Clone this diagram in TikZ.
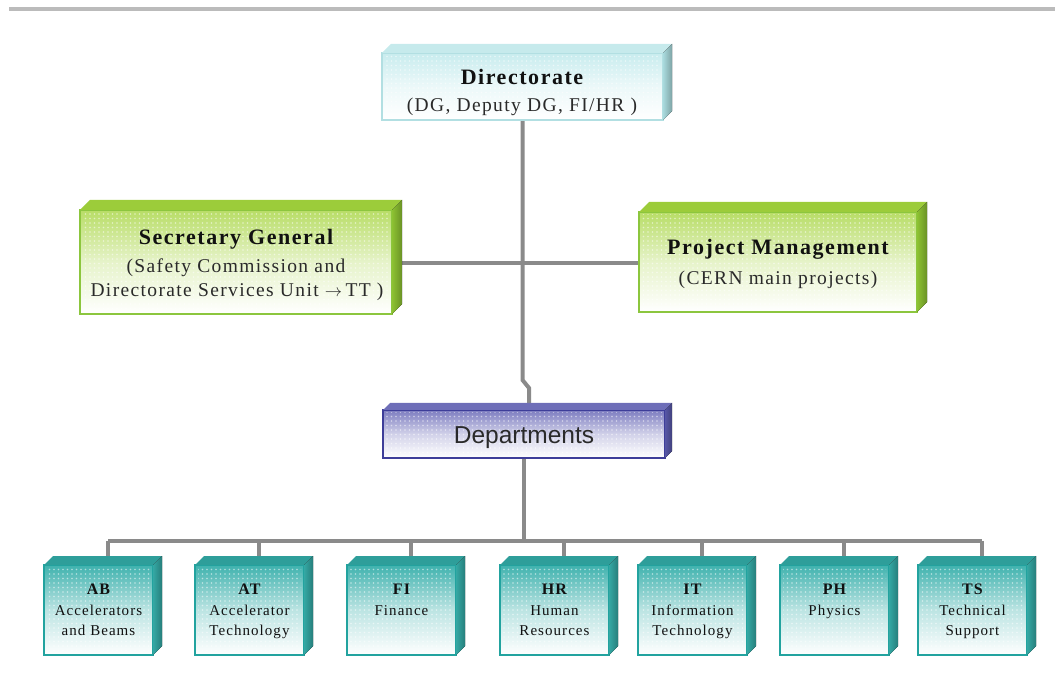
\documentclass[tikz,border=0pt]{standalone}
\usepackage{fontspec}
\setmainfont{Liberation Serif}
\newfontfamily\spacedserif[LetterSpace=7]{Liberation Serif}
\newfontfamily\deptfont{Liberation Sans}
\usetikzlibrary{backgrounds,calc,patterns.meta}

% colour families: Edge / Face (front top colour) / Top / Side
\definecolor{ruleGray}{HTML}{BBBBBB}
\definecolor{linkGray}{HTML}{8A8A8A}
\definecolor{inkDark}{HTML}{111111}
\definecolor{inkSoft}{HTML}{2A2A2A}

\definecolor{cyanEdge}{HTML}{B2DFE2}
\definecolor{cyanFace}{HTML}{C8ECEE}
\definecolor{cyanTop}{HTML}{C6EAEC}
\definecolor{cyanSide}{HTML}{A9DADD}

\definecolor{limeEdge}{HTML}{8CC63E}
\definecolor{limeFace}{HTML}{B8DD66}
\definecolor{limeTop}{HTML}{9CCC3A}
\definecolor{limeSide}{HTML}{8DC232}

\definecolor{violetEdge}{HTML}{3D3D99}
\definecolor{violetFace}{HTML}{7C7CC0}
\definecolor{violetTop}{HTML}{6E6EB8}
\definecolor{violetSide}{HTML}{5656A6}

\definecolor{tealEdge}{HTML}{22A39F}
\definecolor{tealFace}{HTML}{3FB2AE}
\definecolor{tealTop}{HTML}{2E9E9A}
\definecolor{tealSide}{HTML}{34A8A4}

\tikzset{
  slabface/.style={draw=#1Edge, line width=2.5pt, top color=#1Face,
    bottom color=white, middle color=#1Face!35, outer sep=0pt, inner sep=0pt},
  grain/.style={pattern={Dots[distance=4.5pt, radius=0.8pt]},
    pattern color=white, opacity=0.55},
  link/.style={draw=linkGray, line width=4pt},
  headtext/.style={font=\spacedserif\bfseries\fontsize{22}{26}\selectfont,
    text=inkDark, inner sep=0pt, anchor=base},
  subtext/.style={font=\spacedserif\fontsize{19.5}{23}\selectfont,
    text=inkSoft, inner sep=0pt, anchor=base},
  depttext/.style={font=\deptfont\fontsize{24.5}{28}\selectfont,
    text=inkSoft, inner sep=0pt, anchor=base},
  unithead/.style={font=\spacedserif\bfseries\fontsize{16}{18}\selectfont,
    text=inkDark, inner sep=0pt, anchor=base},
  unittext/.style={font=\spacedserif\fontsize{15}{18}\selectfont,
    text=inkDark, inner sep=0pt, anchor=base},
}

% a box with a visible top and right side: name, centre, width, height, depth, colour family
\newcommand\slab[6]{%
  \node[slabface=#6, minimum width=#3, minimum height=#4] (#1) at #2 {};
  \fill[grain] ([shift={(3,3)}]#1.north west) rectangle ([shift={(-3,-3)}]#1.south east);
  \fill[#6Top] (#1.north west) -- ++(#5,-#5)
    -- ([shift={(#5,-#5)}]#1.north east) -- (#1.north east) -- cycle;
  \fill[left color=#6Side, right color=#6Side!75!black]
    (#1.north east) -- ++(#5,-#5)
    -- ([shift={(#5,-#5)}]#1.south east) -- (#1.south east) -- cycle;
}

% a department box with its abbreviation and up to two lines of name
\newcommand\unit[5]{%
  \slab{#1}{(#2,610)}{109}{90}{9}{teal}
  \node[unithead] (#1-a) at (#2,594) {#3};
  \node[unittext] (#1-b) at (#2,615) {#4};
  \node[unittext] (#1-c) at (#2,635) {#5};
}

\begin{document}
\begin{tikzpicture}[x=1pt,y=-1pt]
  \useasboundingbox (0,0) rectangle (1055,700);
  \fill[ruleGray] (9,7) rectangle (1055,11);

  % upper levels
  \slab{dir}{(522.5,86.5)}{281}{67}{9}{cyan}
  \node[headtext] (dirT) at (522,85) {Directorate};
  \node[subtext] (dirS) at (522,112) {(DG, Deputy DG, FI/HR )};

  \slab{sg}{(236,262)}{312}{104}{10}{lime}
  \node[headtext] (sgT) at (236,245) {Secretary General};
  \node[subtext] (sgS1) at (236,273) {(Safety Commission and};
  \node[subtext] (sgS2) at (237,297)
    {Directorate Services Unit {\fontsize{17}{18}\selectfont$\rightarrow$}\,TT )};

  \slab{pm}{(778,262)}{278}{100}{10}{lime}
  \node[headtext] (pmT) at (778,255) {Project Management};
  \node[subtext] (pmS) at (778,285) {(CERN main projects)};

  \slab{dep}{(524,434)}{282}{48}{7}{violet}
  \node[depttext] (depT) at (524,443) {Departments};

  % departments
  \unit{ab}{98.5}{AB}{Accelerators}{and Beams}
  \unit{at}{249.5}{AT}{Accelerator}{Technology}
  \unit{fi}{401.5}{FI}{Finance}{}
  \unit{hr}{554.5}{HR}{Human}{Resources}
  \unit{it}{692.5}{IT}{Information}{Technology}
  \unit{ph}{834.5}{PH}{Physics}{}
  \unit{ts}{972.5}{TS}{Technical}{Support}

  % connectors, behind the boxes
  \begin{pgfonlayer}{background}
    \coordinate (k1) at (522.5,380);
    \coordinate (k2) at (529,388);
    \coordinate (midlink) at (522,263);
    \coordinate (bus) at (524,541);
    \draw[link] (dir.south) -- (k1) -- (k2) -- (k2 |- dep.north);
    \draw[link] (sg.east |- midlink) -- (pm.west |- midlink);
    \draw[link] (dep.south) -- (dep.south |- bus);
    \draw[link] ([xshift=9.5pt]ab.north |- bus) -- ([xshift=9.5pt]ts.north |- bus);
    \foreach \u in {ab,at,fi,hr,it,ph,ts}
      \draw[link] ([xshift=9.5pt]\u.north) -- ([xshift=9.5pt]\u.north |- bus);
  \end{pgfonlayer}
\end{tikzpicture}
\end{document}
